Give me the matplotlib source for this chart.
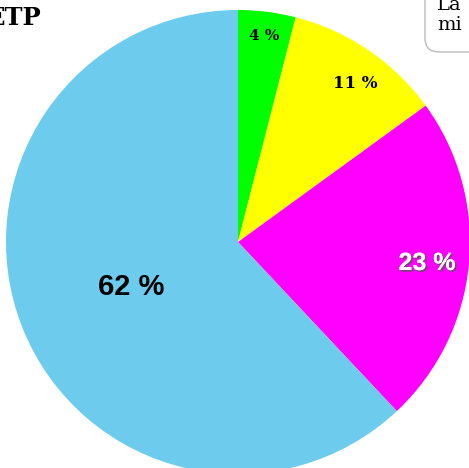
import matplotlib.pyplot as plt
import matplotlib.patheffects as pe
from matplotlib.patches import FancyBboxPatch

# data
labels = ["4 %", "11 %", "23 %", "62 %"]
shares = [4, 11, 23, 62]
colors = ["#00ff00", "#ffff00", "#ff00ff", "#6dcbee"]
title = "ETP"
legend_lines = ["La", "mi"]

W, H = 469, 468
fig = plt.figure(figsize=(W / 100, H / 100), dpi=100)

# pie centre (238, 242) px from top-left, radius 232 px
cx, cy, r = 238, H - 242, 232
ax = fig.add_axes([(cx - r) / W, (cy - r) / H, 2 * r / W, 2 * r / H])
wedges, _ = ax.pie(shares, colors=colors, startangle=90, counterclock=False,
                   radius=1, wedgeprops=dict(linewidth=0))
ax.set_xlim(-1, 1)
ax.set_ylim(-1, 1)
ax.set_aspect("equal")
ax.axis("off")

# label positions in px (x, y from top), font styles per slice
lab_px = [(264, 36), (355, 84), (427, 263), (131, 287)]
lab_style = [
    dict(fontsize=11, family="DejaVu Serif", color="black"),
    dict(fontsize=12, family="DejaVu Serif", color="black"),
    dict(fontsize=18, family="Liberation Sans", color="white"),
    dict(fontsize=21, family="Liberation Sans", color="black"),
]
for (px, py), txt, st in zip(lab_px, labels, lab_style):
    t = fig.text(px / W, 1 - py / H, txt, ha="center", va="center",
                 fontweight="bold", **st)
    if st["color"] == "white":
        t.set_path_effects([pe.withSimplePatchShadow(offset=(1.2, -1.2),
                                                     shadow_rgbFace="#555555", alpha=0.8),
                            pe.Normal()])

fig.text(42 / W, 1 - 18 / H, title, ha="right", va="center",
         fontsize=17.5, fontweight="bold", family="DejaVu Serif")

# legend-like box cut off at the top right
box = FancyBboxPatch((425 / W, 1 - 52 / H), 120 / W, 80 / H,
                     boxstyle="round,pad=0,rounding_size=0.03",
                     transform=fig.transFigure, facecolor="white",
                     edgecolor="#bbbbbb", linewidth=1)
fig.patches.append(box)
for i, line in enumerate(legend_lines):
    fig.text(437 / W, 1 - (5 + 20 * i) / H, line, ha="left", va="center",
             fontsize=14, family="DejaVu Serif")

fig.savefig("out.png", dpi=100, facecolor="white")
